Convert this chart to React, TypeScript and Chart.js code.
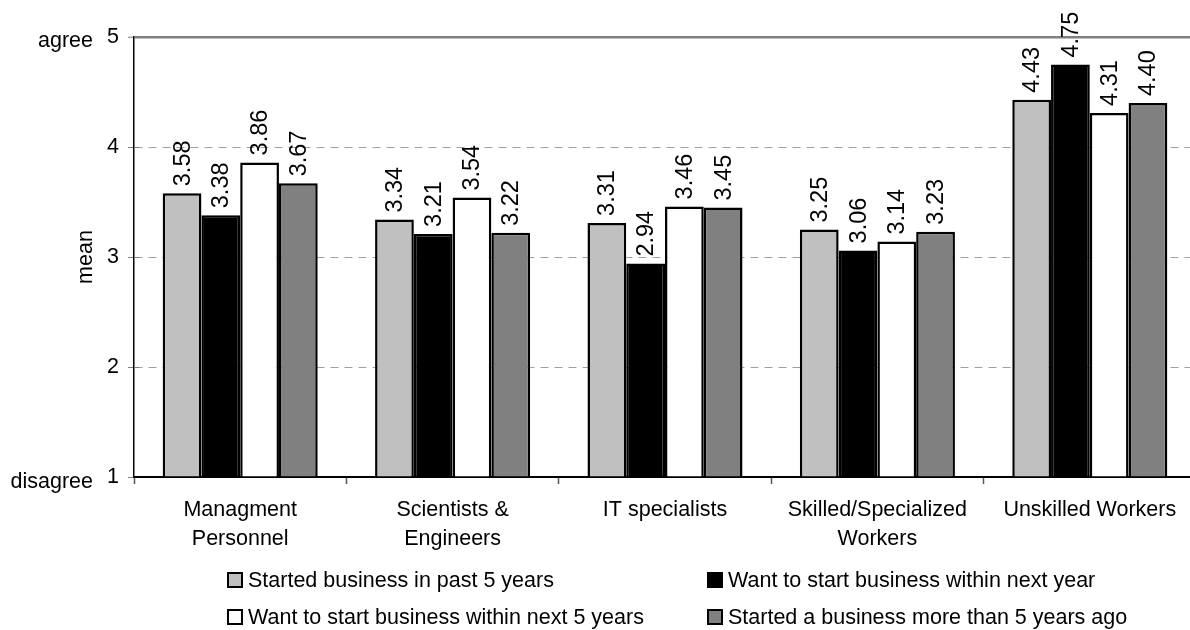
import React, { useEffect, useRef } from "react";
import { Chart, registerables } from "chart.js";

Chart.register(...registerables);

const categories: (string | string[])[] = [
  ["Managment", "Personnel"],
  ["Scientists &", "Engineers"],
  "IT specialists",
  ["Skilled/Specialized", "Workers"],
  "Unskilled Workers",
];
const seriesNames = [
  "Started business in past 5 years",
  "Want to start business within next year",
  "Want to start business within next 5 years",
  "Started a business more than 5 years ago",
];
const startedPast5 = [3.58, 3.34, 3.31, 3.25, 4.43];
const wantNextYear = [3.38, 3.21, 2.94, 3.06, 4.75];
const wantNext5 = [3.86, 3.54, 3.46, 3.14, 4.31];
const startedOver5 = [3.67, 3.22, 3.45, 3.23, 4.4];
const yTickValues = [1, 2, 3, 4, 5];
const yEndLabels: Record<number, string> = { 1: "disagree", 5: "agree" };
const yTitle = "mean";
const seriesColors = ["#c0c0c0", "#000000", "#ffffff", "#808080"];

const FONT = "'Liberation Sans', Arial, Helvetica, sans-serif";

const overlayPlugin = {
  id: "overlay",
  afterDatasetsDraw(chart: any) {
    const ctx = chart.ctx as CanvasRenderingContext2D;
    ctx.save();
    ctx.font = `23.5px ${FONT}`;
    ctx.fillStyle = "#000";
    chart.data.datasets.forEach((ds: any, i: number) => {
      const meta = chart.getDatasetMeta(i);
      meta.data.forEach((bar: any, j: number) => {
        const v = ds.data[j] as number;
        ctx.save();
        ctx.translate(bar.x, bar.y - 7);
        ctx.rotate(-Math.PI / 2);
        ctx.textAlign = "left";
        ctx.textBaseline = "middle";
        ctx.fillText(v.toFixed(2), 0, 1);
        ctx.restore();
      });
    });
    ctx.restore();
  },
  afterDraw(chart: any) {
    const ctx = chart.ctx as CanvasRenderingContext2D;
    const y = chart.scales.y;
    const area = chart.chartArea;
    ctx.save();
    // inner tick marks on the value axis
    ctx.strokeStyle = "#808080";
    ctx.lineWidth = 1;
    yTickValues.forEach((v) => {
      if (v === 1 || v === 5) return;
      const py = Math.round(y.getPixelForValue(v)) + 0.5;
      ctx.beginPath();
      ctx.moveTo(area.left, py);
      ctx.lineTo(area.left + 5, py);
      ctx.stroke();
    });
    // end labels
    ctx.fillStyle = "#000";
    ctx.font = `21.5px ${FONT}`;
    ctx.textAlign = "right";
    ctx.textBaseline = "alphabetic";
    Object.keys(yEndLabels).forEach((k) => {
      const v = Number(k);
      const py = y.getPixelForValue(v) + (v === 1 ? 11 : 10);
      ctx.fillText(yEndLabels[v], 93, py);
    });
    // axis title
    ctx.save();
    ctx.translate(92, (area.top + area.bottom) / 2);
    ctx.rotate(-Math.PI / 2);
    ctx.textAlign = "center";
    ctx.fillText(yTitle, 0, 0);
    ctx.restore();
    // legend
    const cols = [228, 708];
    const rows = [580, 617];
    ctx.textAlign = "left";
    ctx.textBaseline = "middle";
    seriesNames.forEach((name, i) => {
      const bx = cols[i % 2];
      const cy = rows[Math.floor(i / 2)];
      ctx.fillStyle = seriesColors[i];
      ctx.fillRect(bx, cy - 7, 14, 14);
      ctx.strokeStyle = "#000";
      ctx.lineWidth = 2;
      ctx.strokeRect(bx, cy - 7, 14, 14);
      ctx.fillStyle = "#000";
      ctx.fillText(name, bx + 20, cy + 1);
    });
    ctx.restore();
  },
};

export default function App() {
  const canvasRef = useRef<HTMLCanvasElement | null>(null);

  useEffect(() => {
    if (!canvasRef.current) return;
    const seriesData = [startedPast5, wantNextYear, wantNext5, startedOver5];
    const chart = new Chart(canvasRef.current, {
      type: "bar",
      data: {
        labels: categories as any,
        datasets: seriesData.map((d, i) => ({
          label: seriesNames[i],
          data: d,
          base: 1,
          backgroundColor: seriesColors[i],
          borderColor: "#000",
          borderWidth: 2.5,
          categoryPercentage: 0.73,
          barPercentage: 1.0,
        })) as any,
      },
      options: {
        animation: false,
        responsive: true,
        maintainAspectRatio: false,
        layout: { padding: { top: 37, right: 4, left: 0, bottom: 0 } },
        plugins: {
          legend: { display: false },
          tooltip: { enabled: false },
        },
        scales: {
          x: {
            grid: {
              offset: true,
              drawOnChartArea: false,
              tickLength: 7,
              tickColor: "#555",
              tickWidth: 1.5,
            },
            border: { color: "#000", width: 2 },
            ticks: {
              color: "#000",
              font: { size: 21.5, family: FONT, lineHeight: 1.35 },
              padding: 12,
              maxRotation: 0,
              autoSkip: false,
            },
            afterFit: (scale: any) => {
              scale.height = 153;
            },
          },
          y: {
            min: 1,
            max: 5,
            ticks: {
              stepSize: 1,
              color: "#000",
              font: { size: 21.5, family: FONT },
              padding: 9,
            },
            grid: {
              color: (c: any) =>
                c.tick && c.tick.value === 1
                  ? "rgba(0,0,0,0)"
                  : c.tick && c.tick.value === 5
                  ? "#808080"
                  : "#a0a0a0",
              lineWidth: (c: any) => (c.tick && c.tick.value === 5 ? 2.5 : 1),
              tickColor: "#808080",
              tickLength: 6,
              tickWidth: 1,
            },
            border: {
              color: "#000",
              width: 1.5,
              dash: (c: any) => (c.tick && c.tick.value !== 5 ? [8, 6] : []),
            },
            afterFit: (scale: any) => {
              scale.width = 134;
            },
          },
        },
      },
      plugins: [overlayPlugin],
    });
    return () => chart.destroy();
  }, []);

  return (
    <div
      style={{
        position: "absolute",
        left: 0,
        top: 0,
        width: 1190,
        height: 630,
        overflow: "hidden",
        background: "#fff",
      }}
    >
      <div style={{ position: "relative", width: 1200, height: 630 }}>
        <canvas ref={canvasRef} />
      </div>
    </div>
  );
}
